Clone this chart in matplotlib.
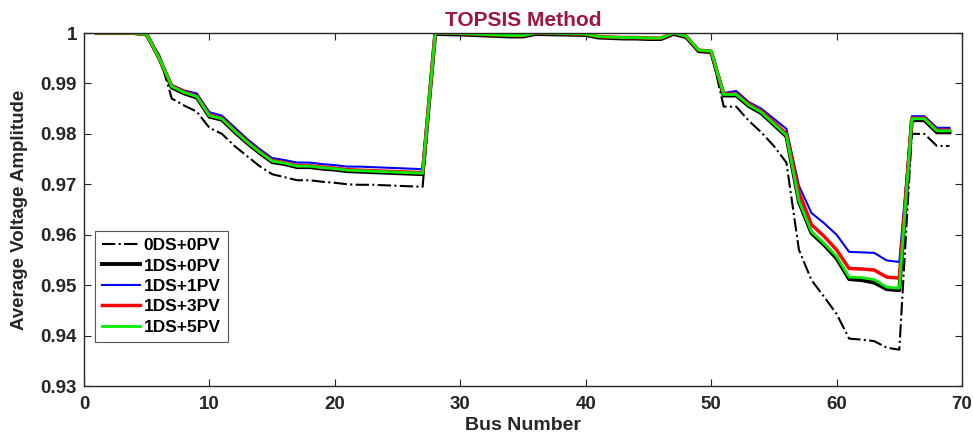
import matplotlib
matplotlib.use("Agg")
import matplotlib.pyplot as plt
import numpy as np

plt.rcParams["font.family"] = ["Liberation Sans", "DejaVu Sans"]

bus = np.arange(1, 70)

# 0DS+0PV (base case)
v_0ds_0pv = [
    1.0, 1.0, 1.0, 0.99998, 0.9997, 0.9956, 0.9870, 0.9856, 0.9844, 0.9812,
    0.9800, 0.9776, 0.9756, 0.9736, 0.9720, 0.9714, 0.9708, 0.9708, 0.9705, 0.9703,
    0.9700, 0.9699, 0.9699, 0.9698, 0.9697, 0.9696, 0.9695, 1.0, 0.99995, 0.9999,
    0.9998, 0.9997, 0.9996, 0.9995, 0.9995, 1.0, 0.99995, 0.9999, 0.99985, 0.9998,
    0.9993, 0.9992, 0.9991, 0.9991, 0.9990, 0.9990, 1.0, 0.9994, 0.9966, 0.9964,
    0.9854, 0.9854, 0.9826, 0.9803, 0.9776, 0.9743, 0.9570, 0.9510, 0.9477, 0.9443,
    0.9394, 0.9392, 0.9389, 0.9376, 0.9372, 0.9800, 0.9800, 0.9776, 0.9776,
]

# 1DS+5PV
v_1ds_5pv = [
    1.0, 1.0, 1.0, 0.99998, 0.9997, 0.9950, 0.9894, 0.9882, 0.9874, 0.9836,
    0.9830, 0.9806, 0.9784, 0.9764, 0.9746, 0.9742, 0.9736, 0.9736, 0.9733, 0.9731,
    0.9728, 0.9727, 0.9726, 0.9725, 0.9724, 0.9723, 0.9722, 1.0, 0.99995, 0.9999,
    0.9998, 0.9997, 0.9996, 0.9995, 0.9995, 1.0, 0.99995, 0.9999, 0.99985, 0.9998,
    0.9993, 0.9992, 0.9991, 0.9991, 0.9990, 0.9990, 1.0, 0.9994, 0.9966, 0.9964,
    0.9878, 0.9878, 0.9857, 0.9843, 0.9820, 0.9797, 0.9667, 0.9606, 0.9583, 0.9557,
    0.9516, 0.9515, 0.9511, 0.9496, 0.9494, 0.9830, 0.9830, 0.9806, 0.9806,
]

# 1DS+0PV, 1DS+1PV, 1DS+3PV expressed as offsets from 1DS+5PV
off_1ds_0pv = [0.0] * 6 + [-0.0002] * 44 + [-0.0002] * 6 + [-0.0002, -0.0003, -0.0003, -0.0004,
                                                          -0.0004, -0.0005, -0.0006, -0.0004, -0.0004,
                                                          -0.0003, -0.0003, -0.0003, -0.0003]
off_1ds_1pv = [0.0] * 6 + [0.0003, 0.0004, 0.0006, 0.0007, 0.0006, 0.0007, 0.0006, 0.0006, 0.0006,
                           0.0006, 0.0007, 0.0007, 0.0007, 0.0007, 0.0007, 0.0008, 0.0008, 0.0008,
                           0.0008, 0.0008, 0.0008] + [0.0] * 23 + [0.0003, 0.0007, 0.0006, 0.0007,
                                                                 0.0010, 0.0013, 0.0030, 0.0037,
                                                                 0.0040, 0.0043, 0.0050, 0.0050,
                                                                 0.0053, 0.0053, 0.0052, 0.0005,
                                                                 0.0005, 0.0006, 0.0006]
off_1ds_3pv = [0.0] * 6 + [0.0001] * 21 + [0.0] * 23 + [0.0001, 0.0001, 0.0002, 0.0002, 0.0003,
                                                       0.0003, 0.0017, 0.0014, 0.0014, 0.0013,
                                                       0.0017, 0.0017, 0.0019, 0.0020, 0.0020,
                                                       0.0001, 0.0001, 0.0001, 0.0001]

v_1ds_0pv = np.array(v_1ds_5pv) + np.array(off_1ds_0pv)
v_1ds_1pv = np.array(v_1ds_5pv) + np.array(off_1ds_1pv)
v_1ds_3pv = np.array(v_1ds_5pv) + np.array(off_1ds_3pv)

fig = plt.figure(figsize=(9.73, 4.4), dpi=100)
ax = fig.add_axes([0.0863, 0.1227, 0.9024, 0.8023])

ax.plot(bus, v_0ds_0pv, color="black", linestyle="-.", linewidth=1.5, label="0DS+0PV")
ax.plot(bus, v_1ds_0pv, color="black", linewidth=2.8, label="1DS+0PV")
ax.plot(bus, v_1ds_1pv, color="blue", linewidth=1.5, label="1DS+1PV")
ax.plot(bus, v_1ds_3pv, color="red", linewidth=2.5, label="1DS+3PV")
ax.plot(bus, v_1ds_5pv, color="#00ee00", linewidth=2.0, label="1DS+5PV")

ax.set_xlim(0, 70)
ax.set_ylim(0.93, 1.0)
ax.set_xticks(np.arange(0, 71, 10))
ax.set_yticks(np.arange(0.93, 1.001, 0.01))
ax.set_yticklabels(["0.93", "0.94", "0.95", "0.96", "0.97", "0.98", "0.99", "1"])
ax.tick_params(direction="in", top=True, right=True, length=5, width=0.8,
               labelsize=13.5, colors="#262626")
ax.tick_params(axis="x", pad=7)
ax.tick_params(axis="y", pad=5)
for lbl in ax.get_xticklabels() + ax.get_yticklabels():
    lbl.set_fontweight("bold")
for sp in ax.spines.values():
    sp.set_color("#262626")
    sp.set_linewidth(1.0)

ax.set_xlabel("Bus Number", fontsize=14, fontweight="bold", color="#262626", labelpad=3)
ax.set_ylabel("Average Voltage Amplitude", fontsize=13.5, fontweight="bold", color="#262626", labelpad=9)
ax.set_title("TOPSIS Method", fontsize=15, fontweight="bold", color="#a0153e", pad=5)

leg = ax.legend(loc="lower left", bbox_to_anchor=(0.0125, 0.126), borderaxespad=0, fancybox=False,
                framealpha=1, edgecolor="#555555", handlelength=2.2, handletextpad=0.2,
                labelspacing=0.3, borderpad=0.4, prop={"weight": "bold", "size": 12.5})
leg.get_frame().set_linewidth(0.8)

fig.savefig("out.png", dpi=100)
